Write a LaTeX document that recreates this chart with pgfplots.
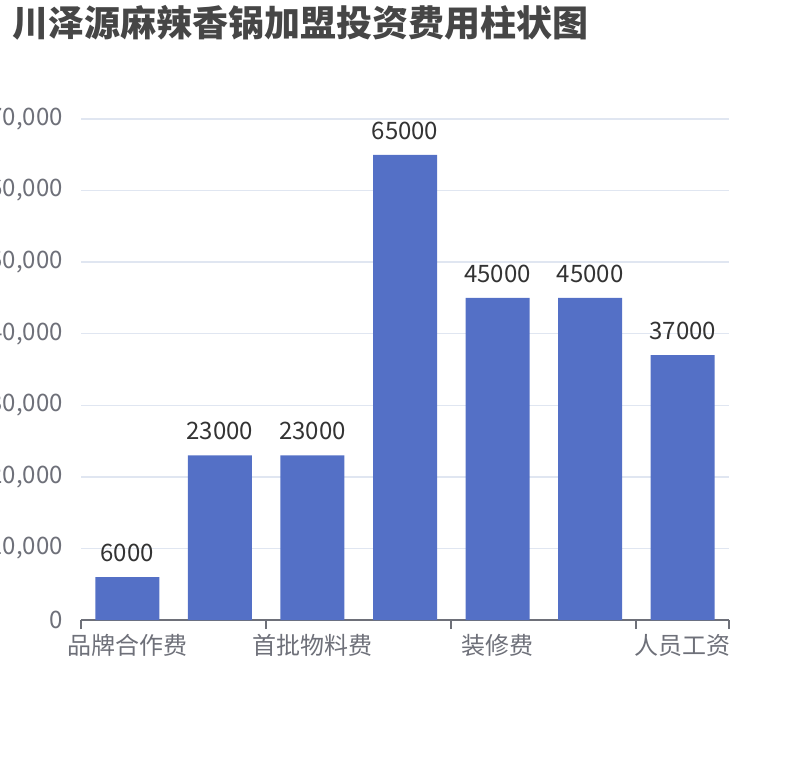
\documentclass[border=0pt]{standalone}
\usepackage{fontspec}
\setmainfont{Noto Sans CJK SC}
\usepackage{pgfplots}
\pgfplotsset{compat=1.18}

\definecolor{barblue}{HTML}{5470C6}
\definecolor{gridc}{HTML}{E0E6F1}
\definecolor{axisc}{HTML}{6E7079}
\definecolor{titlec}{HTML}{464646}
\definecolor{labc}{HTML}{333333}

\begin{document}
\begin{tikzpicture}
\begin{axis}[
  name=ax,
  scale only axis,
  width=648pt, height=501pt,
  ybar, bar width=64pt,
  xmin=-0.5, xmax=6.5,
  ymin=0, ymax=70000,
  enlargelimits=false,
  clip=false,
  axis x line*=bottom,
  axis y line*=left,
  x axis line style={-, draw=axisc, line width=2pt},
  y axis line style={draw=none},
  xtick={0,2,4,6},
  xticklabels={品牌合作费,首批物料费,装修费,人员工资},
  extra x ticks={-0.5,1.5,3.5,5.5,6.5},
  extra x tick labels={},
  extra x tick style={major tick length=9pt, tick align=outside,
    tick style={draw=axisc, line width=2pt}, grid=none},
  ytick={0,10000,...,70000},
  scaled y ticks=false,
  major tick length=0pt,
  ymajorgrids,
  grid style={draw=gridc, line width=1.5pt},
  /pgf/number format/assume math mode=true,
  tick label style={font=\fontsize{24}{28}\selectfont, text=axisc},
  yticklabel style={/pgf/number format/1000 sep={,}, anchor=east, inner sep=0pt, xshift=-18pt},
  xticklabel style={anchor=base, inner sep=0pt, yshift=-34pt},
  nodes near coords={\pgfmathprintnumber[1000 sep={},assume math mode=true]{\pgfplotspointmeta}},
  every node near coord/.append style={font=\fontsize{24}{28}\selectfont, text=labc, inner sep=0pt, yshift=15pt},
]
\addplot[fill=barblue, draw=none] coordinates {
  (0,6000) (1,23000) (2,23000) (3,65000) (4,45000) (5,45000) (6,37000)
};
\end{axis}
\node[anchor=base west, inner sep=0pt, text=titlec, font=\fontsize{36}{40}\selectfont\bfseries]
  at ([xshift=-69pt, yshift=82pt]ax.north west) {川泽源麻辣香锅加盟投资费用柱状图};
\pgfresetboundingbox
\path[use as bounding box] ([xshift=-81pt, yshift=-140pt]ax.south west) rectangle ([xshift=81pt, yshift=119pt]ax.north east);
\end{tikzpicture}
\end{document}
